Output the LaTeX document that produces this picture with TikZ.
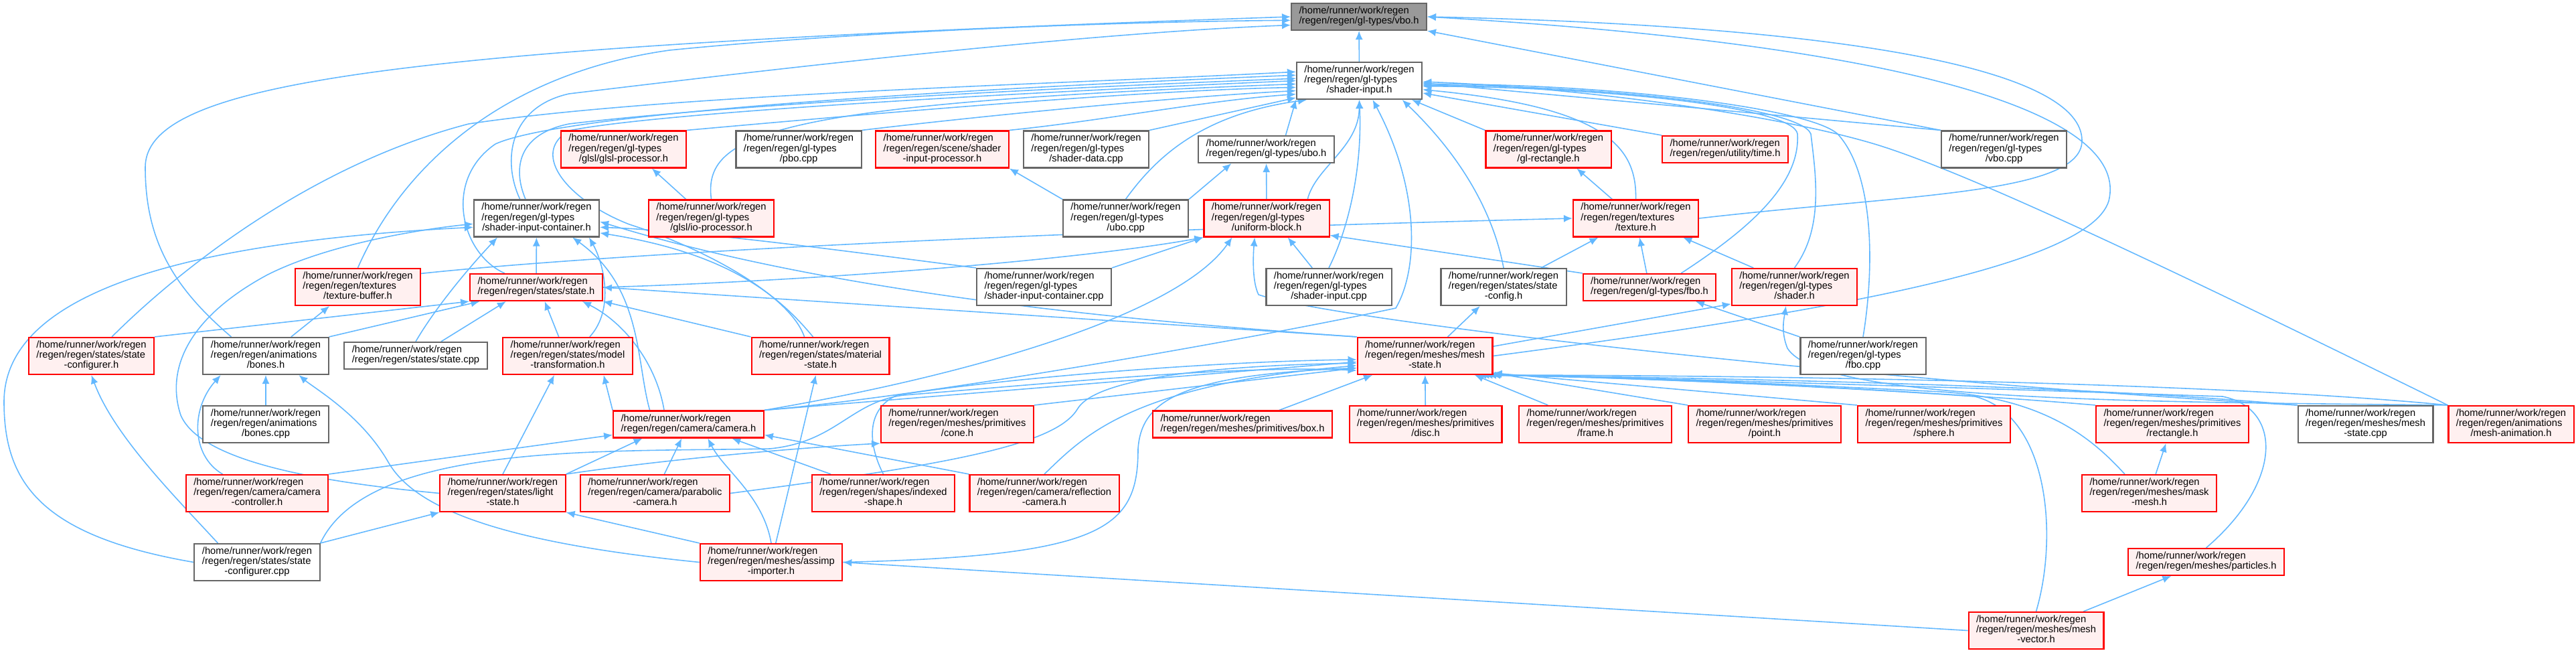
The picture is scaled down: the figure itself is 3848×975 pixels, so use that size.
\documentclass[tikz,border=0pt]{standalone}
\usepackage{fontspec}
\setmainfont{Liberation Sans}
\usetikzlibrary{arrows.meta, backgrounds}
\definecolor{edgeBlue}{HTML}{63B8FF}
\definecolor{boxGray}{HTML}{666666}
\definecolor{fillRed}{HTML}{FFF0F0}
\definecolor{fillGray}{HTML}{999999}
\newcommand{\threeln}[2]{\begin{tabular}{@{}l@{}}/home/runner/work/regen\\#1\\\multicolumn{1}{@{}c@{}}{#2}\end{tabular}}
\newcommand{\twoln}[1]{\begin{tabular}{@{}l@{}}/home/runner/work/regen\\#1\end{tabular}}

\begin{document}
\begin{tikzpicture}[x=0.1mm, y=-0.1mm, font={\fontsize{4.18}{4.25}\selectfont},
        nb/.style={draw, rectangle, inner xsep=1.15mm, inner ysep=0pt,
            minimum height=5.5mm, line width=0.6pt},
        nw/.style={nb, draw=boxGray, fill=white},
        nr/.style={nb, draw=red, fill=fillRed},
        ng/.style={nb, draw=boxGray, fill=fillGray},
        h2/.style={minimum height=4mm},
        ar/.style={-{Latex[length=1.3mm,width=1.1mm]}, draw=edgeBlue, line width=0.45pt}]
    \useasboundingbox (0,0) rectangle (3848,975);

    \node[ng, h2] (vbo) at (2030,25) {\twoln{/regen/regen/gl-types/vbo.h}};
    \node[nw] (si) at (2030.5,120.5) {\threeln{/regen/regen/gl-types}{/shader-input.h}};

    \node[nr] (glslp) at (931.5,223) {\threeln{/regen/regen/gl-types}{/glsl/glsl-processor.h}};
    \node[nw] (pbo) at (1193,223) {\threeln{/regen/regen/gl-types}{/pbo.cpp}};
    \node[nr] (sip) at (1407.5,223) {\threeln{/regen/regen/scene/shader}{-input-processor.h}};
    \node[nw] (sdata) at (1622.5,223) {\threeln{/regen/regen/gl-types}{/shader-data.cpp}};
    \node[nw, h2] (uboh) at (1891.5,223) {\twoln{/regen/regen/gl-types/ubo.h}};
    \node[nr] (glrect) at (2313,223) {\threeln{/regen/regen/gl-types}{/gl-rectangle.h}};
    \node[nr, h2] (time) at (2577,223) {\twoln{/regen/regen/utility/time.h}};
    \node[nw] (vbocpp) at (2993.5,223) {\threeln{/regen/regen/gl-types}{/vbo.cpp}};

    \node[nw] (sic) at (801.5,326) {\threeln{/regen/regen/gl-types}{/shader-input-container.h}};
    \node[nr] (iop) at (1062.5,326) {\threeln{/regen/regen/gl-types}{/glsl/io-processor.h}};
    \node[nw] (ubocpp) at (1681.5,326) {\threeln{/regen/regen/gl-types}{/ubo.cpp}};
    \node[nr] (ublock) at (1892,326) {\threeln{/regen/regen/gl-types}{/uniform-block.h}};
    \node[nr] (tex) at (2443.5,326) {\threeln{/regen/regen/textures}{/texture.h}};

    \node[nr] (texbuf) at (534.5,428.5) {\threeln{/regen/regen/textures}{/texture-buffer.h}};
    \node[nr, h2] (state) at (801,429) {\twoln{/regen/regen/states/state.h}};
    \node[nw] (siccpp) at (1559.5,428.5) {\threeln{/regen/regen/gl-types}{/shader-input-container.cpp}};
    \node[nw] (sicpp) at (1985,428.5) {\threeln{/regen/regen/gl-types}{/shader-input.cpp}};
    \node[nw] (stcfg) at (2246,428.5) {\threeln{/regen/regen/states/state}{-config.h}};
    \node[nr, h2] (fbo) at (2464,429) {\twoln{/regen/regen/gl-types/fbo.h}};
    \node[nr] (shader) at (2680.5,428.5) {\threeln{/regen/regen/gl-types}{/shader.h}};

    \node[nr] (stconf) at (136.5,531.5) {\threeln{/regen/regen/states/state}{-configurer.h}};
    \node[nw] (bones) at (397,531.5) {\threeln{/regen/regen/animations}{/bones.h}};
    \node[nw, h2] (statecpp) at (621,531) {\twoln{/regen/regen/states/state.cpp}};
    \node[nr] (modtr) at (848,531.5) {\threeln{/regen/regen/states/model}{-transformation.h}};
    \node[nr] (mat) at (1225.5,531.5) {\threeln{/regen/regen/states/material}{-state.h}};
    \node[nr] (mesh) at (2128.5,531.5) {\threeln{/regen/regen/meshes/mesh}{-state.h}};
    \node[nw] (fbocpp) at (2783,531.5) {\threeln{/regen/regen/gl-types}{/fbo.cpp}};

    \node[nw] (bonescpp) at (397,633.5) {\threeln{/regen/regen/animations}{/bones.cpp}};
    \node[nr, h2] (cam) at (1028.5,633.5) {\twoln{/regen/regen/camera/camera.h}};
    \node[nr] (cone) at (1430,633.5) {\threeln{/regen/regen/meshes/primitives}{/cone.h}};
    \node[nr, h2] (box) at (1856,633.5) {\twoln{/regen/regen/meshes/primitives/box.h}};
    \node[nr] (disc) at (2129.5,633.5) {\threeln{/regen/regen/meshes/primitives}{/disc.h}};
    \node[nr] (frame) at (2383,633.5) {\threeln{/regen/regen/meshes/primitives}{/frame.h}};
    \node[nr] (point) at (2636,633.5) {\threeln{/regen/regen/meshes/primitives}{/point.h}};
    \node[nr] (sphere) at (2889,633.5) {\threeln{/regen/regen/meshes/primitives}{/sphere.h}};
    \node[nr] (rect) at (3245,633.5) {\threeln{/regen/regen/meshes/primitives}{/rectangle.h}};
    \node[nw] (meshcpp) at (3533.5,633.5) {\threeln{/regen/regen/meshes/mesh}{-state.cpp}};
    \node[nr] (manim) at (3751,633.5) {\threeln{/regen/regen/animations}{/mesh-animation.h}};

    \node[nr] (camctl) at (384,736.5) {\threeln{/regen/regen/camera/camera}{-controller.h}};
    \node[nr] (light) at (751,736.5) {\threeln{/regen/regen/states/light}{-state.h}};
    \node[nr] (parab) at (978.5,736.5) {\threeln{/regen/regen/camera/parabolic}{-camera.h}};
    \node[nr] (ishape) at (1319.5,736.5) {\threeln{/regen/regen/shapes/indexed}{-shape.h}};
    \node[nr] (refl) at (1560,736.5) {\threeln{/regen/regen/camera/reflection}{-camera.h}};
    \node[nr] (mask) at (3210.5,736.5) {\threeln{/regen/regen/meshes/mask}{-mesh.h}};

    \node[nw] (stconfcpp) at (384,839.5) {\threeln{/regen/regen/states/state}{-configurer.cpp}};
    \node[nr] (assimp) at (1152,839.5) {\threeln{/regen/regen/meshes/assimp}{-importer.h}};
    \node[nr, h2] (particles) at (3295.5,839) {\twoln{/regen/regen/meshes/particles.h}};

    \node[nr] (mvec) at (3041.5,941.5) {\threeln{/regen/regen/meshes/mesh}{-vector.h}};

    \begin{scope}[on background layer]
    \draw[ar] (si) -- (vbo);
    \draw[ar] (sic.131) .. controls (750,240) and (760,160) .. (850,140) .. controls (1100,110) and (1600,50) .. (vbo.187);
    \draw[ar] (bones.151) .. controls (260,430) and (217,360) .. (217,250) .. controls (217,120) and (600,70) .. (vbo.180);
    \draw[ar] (texbuf.north) .. controls (600,250) and (750,110) .. (1000,75) .. controls (1300,45) and (1700,32) .. (vbo.183);
    \draw[ar] (vbocpp.north west) -- (vbo.south east);
    \draw[ar] (tex.east) .. controls (2850,290) and (3110,290) .. (3110,210) .. controls (3110,110) and (2800,40) .. (vbo.east);
    \draw[ar] (mesh.east) .. controls (2700,470) and (3120,400) .. (3150,300) .. controls (3180,180) and (2900,70) .. (vbo.east);

    \draw[ar] (stconf.43) .. controls (250,420) and (450,250) .. (700,185) .. controls (1000,140) and (1600,125) .. (si.172);
    \draw[ar] (state.156) .. controls (690,380) and (660,270) .. (740,215) .. controls (850,165) and (1500,130) .. (si.175);
    \draw[ar] (sic.120) .. controls (765,250) and (775,200) .. (850,185) .. controls (1100,155) and (1600,130) .. (si.178);
    \draw[ar] (mat.130) .. controls (1180,440) and (1050,370) .. (940,335) .. controls (850,300) and (790,230) .. (850,195) .. controls (1000,165) and (1600,135) .. (si.180);
    \draw[ar] (iop.north) .. controls (1050,200) and (1150,155) .. (si.183);
    \draw[ar] (glslp.north east) .. controls (1300,170) and (1700,135) .. (si.186);
    \draw[ar] (pbo.north east) .. controls (1450,175) and (1750,145) .. (si.189);
    \draw[ar] (sip.north east) .. controls (1650,180) and (1800,150) .. (si.192);
    \draw[ar] (sdata.north east) -- (si.195);
    \draw[ar] (ubocpp.north) .. controls (1730,230) and (1800,170) .. (si.200);
    \draw[ar] (uboh.36) -- (si.south west);
    \draw[ar] (ublock.25) .. controls (1965,250) and (2030,220) .. (si.south);
    \draw[ar] (sicpp.north) .. controls (2015,340) and (2035,250) .. (si.south);
    \draw[ar] (cam.north east) .. controls (1400,590) and (1900,500) .. (2085,460) .. controls (2120,400) and (2120,280) .. (si.-55);
    \draw[ar] (stcfg.north) .. controls (2235,340) and (2200,250) .. (si.-24);
    \draw[ar] (glrect.north west) -- (si.-20);
    \draw[ar] (time.north west) -- (si.-11);
    \draw[ar] (tex.north) .. controls (2445,220) and (2400,160) .. (si.-8);
    \draw[ar] (fbo.24) .. controls (2600,350) and (2690,280) .. (2685,200) .. controls (2680,160) and (2400,130) .. (si.-5);
    \draw[ar] (shader.north) .. controls (2725,340) and (2712,260) .. (2705,200) .. controls (2690,160) and (2400,128) .. (si.-4);
    \draw[ar] (fbocpp.north) .. controls (2800,400) and (2800,260) .. (2745,200) .. controls (2700,160) and (2400,125) .. (si.-3);
    \draw[ar] (vbocpp.north west) -- (si.-2);
    \draw[ar] (manim.north west) .. controls (3300,430) and (2950,260) .. (2800,215) .. controls (2650,170) and (2350,130) .. (si.-1);

    \draw[ar] (state) -- (sic);
    \draw[ar] (statecpp.north) .. controls (650,460) and (700,400) .. (sic.206);
    \draw[ar] (modtr.41) .. controls (920,460) and (900,390) .. (sic.-20);
    \draw[ar] (cam.160) .. controls (950,540) and (960,430) .. (sic.-28);
    \draw[ar] (mat.111) .. controls (1170,450) and (1100,380) .. (sic.-13);
    \draw[ar] (siccpp.north west) .. controls (1300,380) and (1050,345) .. (sic.-8);
    \draw[ar] (mesh.north west) .. controls (1700,480) and (1250,440) .. (sic.-3);
    \draw[ar] (light.west) .. controls (480,720) and (300,690) .. (270,620) .. controls (250,560) and (270,480) .. (400,410) .. controls (500,360) and (650,340) .. (sic.185);
    \draw[ar] (stconfcpp.west) .. controls (60,800) and (6,720) .. (6,600) .. controls (6,430) and (300,360) .. (sic.188);

    \draw[ar] (stconf.north east) -- (state.south west);
    \draw[ar] (bones.north east) -- (state.194);
    \draw[ar] (statecpp.29) -- (state.205);
    \draw[ar] (modtr.115) -- (state.-59);
    \draw[ar] (mat.north west) -- (state.south east);
    \draw[ar] (cam.150) .. controls (980,540) and (930,480) .. (state.-17);
    \draw[ar] (mesh.north west) -- (state.east);

    \draw[ar] (ublock) -- (uboh);
    \draw[ar] (state.east) .. controls (1200,420) and (1600,390) .. (ublock.south west);
    \draw[ar] (siccpp.north east) -- (ublock.south west);
    \draw[ar] (cam.north east) .. controls (1450,560) and (1760,470) .. (ublock.209);
    \draw[ar] (meshcpp.north west) .. controls (2800,570) and (2000,480) .. (1880,440) .. controls (1870,420) and (1872,380) .. (ublock.238);
    \draw[ar] (sicpp.131) -- (ublock.-42);
    \draw[ar] (fbo.north west) -- (ublock.-15);

    \draw[ar] (ubocpp.north east) -- (uboh.202);
    \draw[ar] (ubocpp.north west) -- (sip.south east);
    \draw[ar] (iop.143) -- (glslp.-34);
    \draw[ar] (tex.141) -- (glrect.-34);

    \draw[ar] (texbuf.12) .. controls (850,385) and (1400,350) .. (tex.west);
    \draw[ar] (stcfg.27) -- (tex.207);
    \draw[ar] (fbo) -- (tex);
    \draw[ar] (shader.155) -- (tex.-22);

    \draw[ar] (bones.37) -- (texbuf.214);
    \draw[ar] (stconfcpp.154) .. controls (260,740) and (170,650) .. (stconf.south);
    \draw[ar] (bonescpp) -- (bones);
    \draw[ar] (camctl.151) .. controls (285,680) and (285,610) .. (bones.203);
    \draw[ar] (assimp.west) .. controls (750,810) and (620,760) .. (580,690) .. controls (540,620) and (470,580) .. (bones.-30);

    \draw[ar] (camctl.north east) -- (cam.188);
    \draw[ar] (light.north east) -- (cam.197);
    \draw[ar] (parab) -- (cam);
    \draw[ar] (assimp.north) .. controls (1140,740) and (1080,700) .. (cam.-36);
    \draw[ar] (ishape.160) -- (cam.-18);
    \draw[ar] (refl.north west) -- (cam.-8);

    \draw[ar] (light.north) -- (modtr.235);
    \draw[ar] (cam.north west) -- (modtr.-28);
    \draw[ar] (assimp) -- (mat);
    \draw[ar] (stconfcpp.north east) -- (light.south west);
    \draw[ar] (assimp.north west) -- (light.south east);
    \draw[ar] (light.north east) .. controls (1000,685) and (1200,668) .. (cone.south west);

    \draw[ar] (cam.north east) -- (mesh.185);
    \draw[ar] (cone.north east) -- (mesh.190);
    \draw[ar] (box.21) -- (mesh.200);
    \draw[ar] (ishape.north) .. controls (1295,660) and (1295,610) .. (1340,590) .. controls (1500,565) and (1800,540) .. (mesh.183);
    \draw[ar] (parab.east) .. controls (1450,690) and (1580,660) .. (1610,610) .. controls (1640,560) and (1850,545) .. (mesh.186);
    \draw[ar] (refl.north) .. controls (1620,650) and (1690,575) .. (mesh.188);
    \draw[ar] (assimp.east) .. controls (1650,830) and (1700,790) .. (1700,670) .. controls (1705,600) and (1760,560) .. (mesh.190);
    \draw[ar] (stconfcpp.north east) .. controls (550,660) and (900,675) .. (1150,670) .. controls (1250,660) and (1270,600) .. (1350,590) .. controls (1600,570) and (1850,545) .. (mesh.192);

    \draw[ar] (disc) -- (mesh);
    \draw[ar] (frame.158) -- (mesh.-21);
    \draw[ar] (point.north west) -- (mesh.-14);
    \draw[ar] (sphere.north west) -- (mesh.-14);
    \draw[ar] (rect.north west) .. controls (2900,585) and (2500,565) .. (mesh.-16);
    \draw[ar] (meshcpp.north west) .. controls (3100,575) and (2600,565) .. (mesh.-17);
    \draw[ar] (manim.north west) .. controls (3300,570) and (2600,560) .. (mesh.-18);
    \draw[ar] (mask.142) .. controls (3130,660) and (3060,595) .. (2900,585) .. controls (2600,570) and (2350,560) .. (mesh.-19);
    \draw[ar] (particles.north) .. controls (3410,720) and (3410,610) .. (3320,592) .. controls (2900,578) and (2400,562) .. (mesh.-20);
    \draw[ar] (mvec.north) .. controls (3075,800) and (3060,620) .. (2950,592) .. controls (2700,575) and (2400,562) .. (mesh.-21);

    \draw[ar] (mesh.40) -- (stcfg.219);
    \draw[ar] (mesh.8) -- (shader.195);
    \draw[ar] (manim.north west) .. controls (3200,600) and (2720,600) .. (2670,520) .. controls (2660,495) and (2665,475) .. (shader.246);
    \draw[ar] (fbocpp.north west) -- (fbo.-17);
    \draw[ar] (mask) -- (rect);
    \draw[ar] (mvec) -- (particles);
    \draw[ar] (mvec.west) -- (assimp.east);
    \end{scope}
\end{tikzpicture}
\end{document}
